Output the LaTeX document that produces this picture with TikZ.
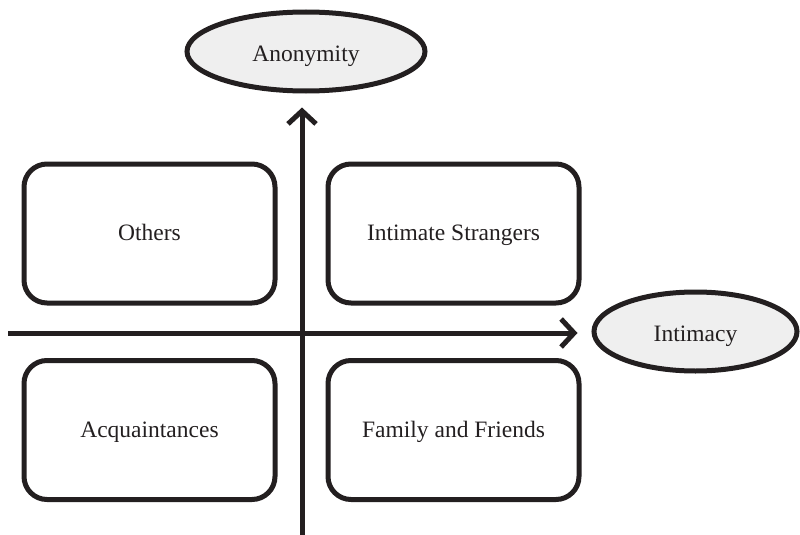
\documentclass[tikz,border=0pt]{standalone}
\usepackage{fontspec}
\setmainfont{Liberation Serif}
\usetikzlibrary{arrows.meta,shapes.geometric}
\definecolor{ellfill}{HTML}{EFEFEF}
\definecolor{ink}{HTML}{231F20}
\begin{document}
\begin{tikzpicture}[x=1pt,y=-1pt,
  quad/.style={draw=ink,line width=5pt,rounded corners=23pt,minimum width=251pt,minimum height=139pt,inner sep=0pt,font=\fontsize{23.5}{28}\selectfont,text=ink,text height=18pt,text depth=4pt},
  pole/.style={ellipse,draw=ink,fill=ellfill,line width=5pt,inner sep=0pt,font=\fontsize{23.5}{28}\selectfont,text=ink,text height=24pt,text depth=4pt},
  axis/.style={draw=ink,line width=5pt,-{Straight Barb[length=13pt,width=28pt,line width=5pt]},shorten >=14pt}]
\useasboundingbox (0,0) rectangle (800,535);
\node[pole,minimum width=238pt,minimum height=79pt] (anon) at (306,51.5) {Anonymity};
\node[pole,minimum width=203pt,minimum height=79pt] (intim) at (695.5,331.5) {Intimacy};
\node[quad] (others) at (149.5,233.5) {Others};
\node[quad] (strangers) at (453.5,233.5) {Intimate Strangers};
\node[quad] (acq) at (149.5,430) {Acquaintances};
\node[quad] (family) at (453.5,430) {Family and Friends};
\coordinate (vbot) at (302,536);
\coordinate (hleft) at (8,333);
\draw[axis] (vbot) -- (anon.south -| vbot);
\draw[axis] (hleft) -- (intim.west |- hleft);
\end{tikzpicture}
\end{document}
